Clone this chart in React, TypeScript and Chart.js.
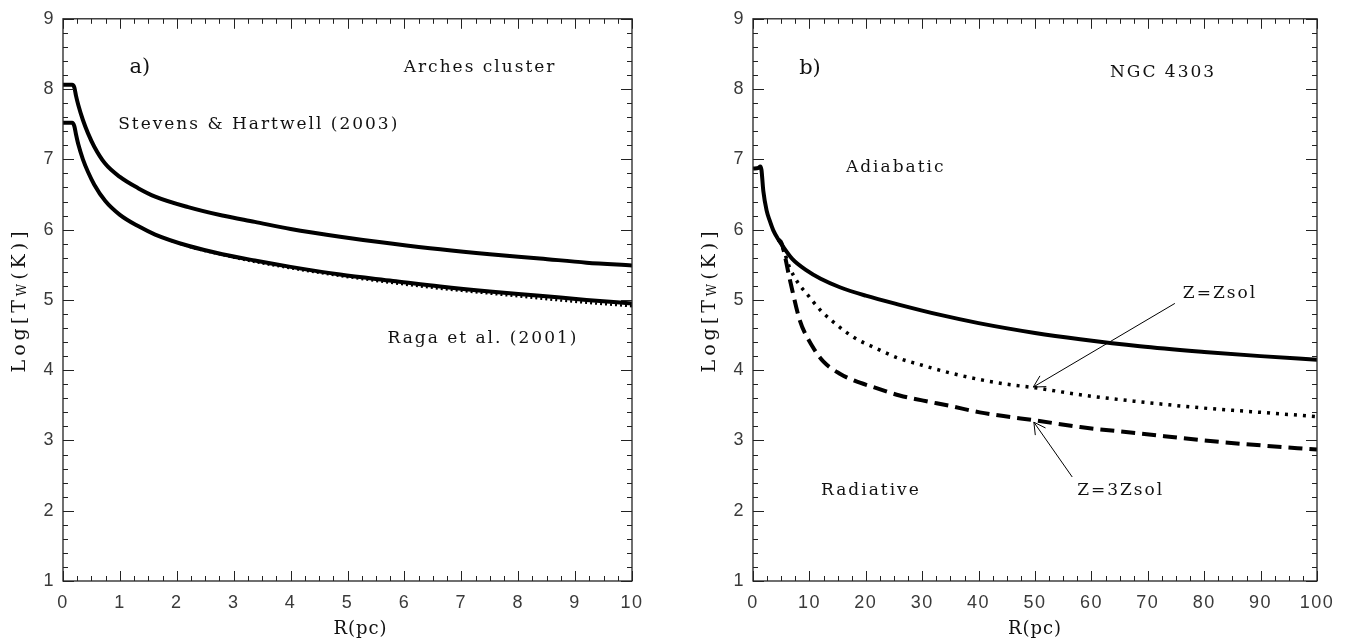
import React, { useEffect, useRef } from "react";
import { Chart, registerables } from "chart.js";
Chart.register(...registerables);

// ---------- Panel a) Arches cluster ----------
const aR_SH = [0, 0.16, 0.2, 0.23, 0.27, 0.35, 0.44, 0.55, 0.74, 1.0, 1.32, 1.62, 2.2, 2.8, 3.37, 4.0, 4.87, 5.8, 6.63, 7.5, 8.38, 9.2, 10];
const aT_SH = [8.06, 8.06, 8.02, 7.9, 7.77, 7.56, 7.37, 7.18, 6.94, 6.75, 6.59, 6.47, 6.32, 6.2, 6.11, 6.01, 5.9, 5.8, 5.72, 5.65, 5.59, 5.53, 5.49];
const aR_Raga = [0, 0.16, 0.2, 0.23, 0.27, 0.35, 0.44, 0.55, 0.74, 1.0, 1.32, 1.62, 2.2, 2.8, 3.37, 4.0, 4.87, 5.8, 6.63, 7.5, 8.38, 9.2, 10];
const aT_Raga = [7.52, 7.52, 7.47, 7.35, 7.21, 7.0, 6.82, 6.64, 6.41, 6.21, 6.05, 5.93, 5.77, 5.65, 5.56, 5.47, 5.36, 5.27, 5.19, 5.12, 5.06, 5.0, 4.95];
const aR_RagaDot = [0.27, 0.35, 0.44, 0.55, 0.74, 1.0, 1.32, 1.62, 2.2, 2.8, 3.37, 4.0, 4.87, 5.8, 6.63, 7.5, 8.38, 9.2, 10];
const aT_RagaDot = [7.21, 7.0, 6.82, 6.64, 6.41, 6.21, 6.05, 5.93, 5.76, 5.64, 5.54, 5.45, 5.34, 5.24, 5.16, 5.09, 5.02, 4.96, 4.91];

// ---------- Panel b) NGC 4303 ----------
const bR_ad = [0, 1.0, 1.3, 1.5, 1.83, 2.42, 3.0, 3.6, 4.5, 5.4, 7, 9.5, 12, 15.4, 20, 26, 33, 40, 50, 58, 68.6, 80, 90, 100];
const bT_ad = [6.87, 6.88, 6.9, 6.85, 6.55, 6.27, 6.12, 5.99, 5.86, 5.75, 5.58, 5.42, 5.3, 5.18, 5.06, 4.93, 4.79, 4.67, 4.53, 4.44, 4.34, 4.26, 4.2, 4.15];
const bR_z1 = [4.5, 5.2, 6.5, 8, 9.5, 12, 15.4, 18, 21.3, 25.5, 30, 35, 40, 45, 50, 58, 68.6, 80, 90, 100];
const bT_z1 = [5.86, 5.76, 5.46, 5.24, 5.09, 4.85, 4.61, 4.46, 4.33, 4.18, 4.07, 3.96, 3.87, 3.8, 3.75, 3.65, 3.55, 3.46, 3.4, 3.34];
const bR_z3 = [4.5, 5.1, 6.56, 8.3, 10.6, 12.5, 15.4, 18, 21.3, 26, 30, 35, 40.2, 45, 49.7, 58, 68.6, 80, 90, 100];
const bT_z3 = [5.86, 5.8, 5.28, 4.71, 4.33, 4.12, 3.95, 3.85, 3.76, 3.64, 3.57, 3.49, 3.4, 3.34, 3.29, 3.19, 3.1, 3.0, 2.93, 2.87];

// ---------- Axes ----------
const yMin = 1, yMax = 9, yStep = 1, yMinor = 0.2;
const aXMax = 10, aXStep = 1, aXMinor = 0.25;
const bXMax = 100, bXStep = 10, bXMinor = 2.5;

// ---------- Annotations ----------
const aTexts = [
  { t: "a)", x: 1.35, y: 8.3, big: true },
  { t: "Arches cluster", x: 7.33, y: 8.3 },
  { t: "Stevens & Hartwell (2003)", x: 3.44, y: 7.49 },
  { t: "Raga et al. (2001)", x: 7.38, y: 4.45 },
];
const bTexts = [
  { t: "b)", x: 10.1, y: 8.29, big: true },
  { t: "NGC 4303", x: 72.7, y: 8.24 },
  { t: "Adiabatic", x: 25.3, y: 6.88 },
  { t: "Z=Zsol", x: 82.8, y: 5.09 },
  { t: "Radiative", x: 20.9, y: 2.29 },
  { t: "Z=3Zsol", x: 65.2, y: 2.29 },
];
const bArrows = [
  { fx: 74.8, fy: 4.95, tx: 49.7, ty: 3.76 },
  { fx: 56.6, fy: 2.48, tx: 49.8, ty: 3.26 },
];

const toPts = (xs: number[], ys: number[]) => xs.map((x, i) => ({ x, y: ys[i] }));

const SERIF = '"DejaVu Serif"';

const decorPlugin = {
  id: "decor",
  beforeDraw(chart: any) {
    (chart.ctx as any).letterSpacing = "1.5px";
  },
  afterDatasetsDraw(chart: any, _args: any, opts: any) {
    const { ctx, chartArea } = chart;
    const { left, right, top, bottom } = chartArea;
    const xs = chart.scales.x, ys = chart.scales.y;
    ctx.save();
    // frame
    ctx.strokeStyle = "#222";
    ctx.lineWidth = 1.3;
    ctx.strokeRect(left, top, right - left, bottom - top);
    const line = (x1: number, y1: number, x2: number, y2: number) => {
      ctx.beginPath(); ctx.moveTo(x1, y1); ctx.lineTo(x2, y2); ctx.stroke();
    };
    ctx.lineWidth = 1;
    const isMajor = (v: number, step: number) => Math.abs(v / step - Math.round(v / step)) < 1e-6;
    const nx = Math.round((xs.max - xs.min) / opts.xMinor);
    for (let i = 0; i <= nx; i++) {
      const v = xs.min + i * opts.xMinor;
      const px = Math.round(xs.getPixelForValue(v)) + 0.5;
      const len = isMajor(v, opts.xStep) ? 10 : 5;
      line(px, bottom, px, bottom - len);
      line(px, top, px, top + len);
    }
    const ny = Math.round((ys.max - ys.min) / opts.yMinor);
    for (let i = 0; i <= ny; i++) {
      const v = ys.min + i * opts.yMinor;
      const py = Math.round(ys.getPixelForValue(v)) + 0.5;
      const len = isMajor(v, opts.yStep) ? 11 : 5;
      line(left, py, left + len, py);
      line(right, py, right - len, py);
    }
    // texts
    ctx.fillStyle = "#111";
    ctx.textAlign = "center";
    ctx.textBaseline = "middle";
    for (const n of opts.texts) {
      if (n.big) {
        ctx.font = `21px ${SERIF}`;
        (ctx as any).letterSpacing = "0px";
      } else {
        ctx.font = `17px ${SERIF}`;
        (ctx as any).letterSpacing = "2px";
      }
      ctx.fillText(n.t, xs.getPixelForValue(n.x), ys.getPixelForValue(n.y));
    }
    (ctx as any).letterSpacing = "0px";
    // arrows
    ctx.strokeStyle = "#000";
    ctx.lineWidth = 1;
    for (const a of opts.arrows) {
      const x1 = xs.getPixelForValue(a.fx), y1 = ys.getPixelForValue(a.fy);
      const x2 = xs.getPixelForValue(a.tx), y2 = ys.getPixelForValue(a.ty);
      line(x1, y1, x2, y2);
      const ang = Math.atan2(y1 - y2, x1 - x2);
      const L = 13, w = 0.5;
      line(x2, y2, x2 + L * Math.cos(ang + w), y2 + L * Math.sin(ang + w));
      line(x2, y2, x2 + L * Math.cos(ang - w), y2 + L * Math.sin(ang - w));
    }
    // x title
    ctx.fillStyle = "#111";
    ctx.font = `18px ${SERIF}`;
    (ctx as any).letterSpacing = "1px";
    ctx.textAlign = "center";
    ctx.textBaseline = "middle";
    ctx.fillText("R(pc)", (left + right) / 2 + opts.xTitleShift, 629);
    // y title with subscript
    ctx.save();
    ctx.translate(opts.yTitleX, (top + bottom) / 2);
    ctx.rotate(-Math.PI / 2);
    (ctx as any).letterSpacing = "4px";
    const f1 = `19px ${SERIF}`, f2 = `12px ${SERIF}`;
    const parts = [
      { t: "Log[T", f: f1, dy: 0 },
      { t: "W", f: f2, dy: 3 },
      { t: "(K)]", f: f1, dy: 0 },
    ];
    let total = 0;
    for (const p of parts) { ctx.font = p.f; total += ctx.measureText(p.t).width; }
    let cx = -total / 2;
    ctx.textAlign = "left";
    for (const p of parts) {
      ctx.font = p.f;
      ctx.fillText(p.t, cx, p.dy);
      cx += ctx.measureText(p.t).width;
    }
    ctx.restore();
    ctx.restore();
    (ctx as any).letterSpacing = "0px";
  },
};

function makeConfig(p: any) {
  return {
    type: "line",
    data: { datasets: p.datasets },
    options: {
      animation: false,
      responsive: false,
      devicePixelRatio: 1,
      parsing: false,
      layout: { padding: { top: p.top, right: p.right, left: 0, bottom: 0 } },
      plugins: {
        legend: { display: false },
        tooltip: { enabled: false },
        decor: p.decor,
      },
      elements: { point: { radius: 0 } },
      scales: {
        x: {
          type: "linear",
          min: 0,
          max: p.xMax,
          grid: { display: false, drawTicks: false },
          border: { display: false },
          ticks: {
            stepSize: p.xStep,
            padding: 11,
            color: "#3a3a3a",
            font: { family: "Liberation Sans", size: 18 },
            maxRotation: 0,
          },
          afterFit: (s: any) => { s.height = 58; },
        },
        y: {
          type: "linear",
          min: yMin,
          max: yMax,
          grid: { display: false, drawTicks: false },
          border: { display: false },
          ticks: {
            stepSize: yStep,
            padding: 8,
            color: "#3a3a3a",
            font: { family: "Liberation Sans", size: 18 },
          },
          afterFit: (s: any) => { s.width = p.yWidth; },
        },
      },
    },
    plugins: [decorPlugin],
  };
}

const solid = (data: any[], order = 0) => ({
  data, borderColor: "#000", borderWidth: 4, pointRadius: 0, fill: false,
  cubicInterpolationMode: "monotone", order,
});

function Panel({ cfg, left }: { cfg: any; left: number }) {
  const ref = useRef<HTMLCanvasElement>(null);
  useEffect(() => {
    const c = new Chart(ref.current as HTMLCanvasElement, cfg);
    return () => c.destroy();
  }, []);
  return (
    <canvas
      ref={ref}
      width={673}
      height={639}
      style={{ position: "absolute", left, top: 0, width: 673, height: 639 }}
    />
  );
}

export default function App() {
  const cfgA = makeConfig({
    xMax: aXMax, xStep: aXStep, top: 13, right: 41, yWidth: 63,
    datasets: [
      { ...solid(toPts(aR_SH, aT_SH), 0) },
      { ...solid(toPts(aR_Raga, aT_Raga), 1) },
      {
        data: toPts(aR_RagaDot, aT_RagaDot), borderColor: "#000", borderWidth: 2.5,
        borderDash: [2, 3], pointRadius: 0, fill: false, cubicInterpolationMode: "monotone", order: 2,
      },
    ],
    decor: {
      xMinor: aXMinor, xStep: aXStep, yMinor, yStep,
      texts: aTexts, arrows: [], yTitleX: 20, xTitleShift: 13,
    },
  });
  const cfgB = makeConfig({
    xMax: bXMax, xStep: bXStep, top: 18, right: 29, yWidth: 80,
    datasets: [
      { ...solid(toPts(bR_ad, bT_ad), 0) },
      {
        data: toPts(bR_z1, bT_z1), borderColor: "#000", borderWidth: 3.5,
        borderDash: [3, 6], pointRadius: 0, fill: false, cubicInterpolationMode: "monotone", order: 1,
      },
      {
        data: toPts(bR_z3, bT_z3), borderColor: "#000", borderWidth: 4,
        borderDash: [14, 7], pointRadius: 0, fill: false, cubicInterpolationMode: "monotone", order: 2,
      },
    ],
    decor: {
      xMinor: bXMinor, xStep: bXStep, yMinor, yStep,
      texts: bTexts, arrows: bArrows, yTitleX: 37, xTitleShift: 0,
    },
  });
  return (
    <div style={{ position: "absolute", left: 0, top: 0, width: 1346, height: 639, background: "#fff" }}>
      <Panel cfg={cfgA} left={0} />
      <Panel cfg={cfgB} left={673} />
    </div>
  );
}
